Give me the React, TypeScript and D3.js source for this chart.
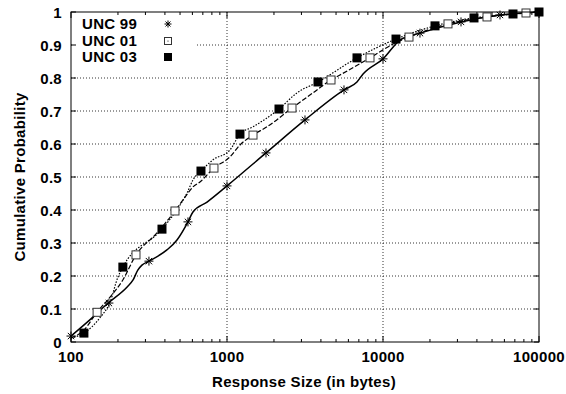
import React from "react";
import * as d3 from "d3";

const W = 566, H = 394;
const M = { left: 71, right: 539, top: 12, bottom: 342 };

const xTickValues = [100, 1000, 10000, 100000];
const xTickLabels = ["100", "1000", "10000", "100000"];
const yTickValues = [0, 0.1, 0.2, 0.3, 0.4, 0.5, 0.6, 0.7, 0.8, 0.9, 1];
const yTickLabels = ["0", "0.1", "0.2", "0.3", "0.4", "0.5", "0.6", "0.7", "0.8", "0.9", "1"];

const seriesNames = ["UNC 99", "UNC 01", "UNC 03"];

// curve samples [bytes, probability]
const unc99Line: [number, number][] = [
  [100, 0.018], [132, 0.067], [173, 0.118], [229, 0.167], [250, 0.188], [268, 0.218],
  [285, 0.233], [316, 0.245], [412, 0.279], [478, 0.309], [562, 0.364], [605, 0.394],
  [745, 0.424], [1000, 0.473], [1778, 0.573], [3162, 0.673], [5623, 0.764], [6810, 0.788],
  [7450, 0.812], [10000, 0.858], [12850, 0.915], [17260, 0.936], [31623, 0.97],
  [56234, 0.991], [100000, 1.0],
];
const unc01Line: [number, number][] = [
  [100, 0.012], [121, 0.036], [147, 0.091], [178, 0.136], [215, 0.188], [261, 0.264],
  [345, 0.324], [464, 0.397], [538, 0.439], [605, 0.47], [671, 0.485], [825, 0.527],
  [1045, 0.561], [1211, 0.597], [1468, 0.627], [1803, 0.652], [2610, 0.709], [3556, 0.755],
  [4642, 0.794], [5297, 0.809], [8254, 0.861], [12300, 0.909], [14678, 0.924],
  [26100, 0.964], [46400, 0.985], [82500, 0.997], [100000, 1.0],
];
const unc03Line: [number, number][] = [
  [100, 0.012], [121, 0.027], [153, 0.073], [178, 0.121], [200, 0.197], [215, 0.227],
  [383, 0.342], [500, 0.415], [555, 0.452], [605, 0.491], [681, 0.518], [813, 0.552],
  [1045, 0.582], [1211, 0.63], [1468, 0.652], [2154, 0.706], [2810, 0.755], [3831, 0.788],
  [6812, 0.861], [12116, 0.918], [21544, 0.958], [38312, 0.982], [68129, 0.994],
  [100000, 1.0],
];

// marker positions
const unc99Points: [number, number][] = [
  [100, 0.018], [175, 0.118], [316, 0.245], [562, 0.364], [1000, 0.473], [1778, 0.573],
  [3162, 0.673], [5623, 0.764], [10000, 0.858], [17260, 0.936], [31623, 0.97], [56234, 0.991],
];
const unc01Points: [number, number][] = [
  [147, 0.09], [261, 0.264], [464, 0.397], [825, 0.527], [1468, 0.627], [2610, 0.709],
  [4642, 0.794], [8254, 0.861], [14678, 0.924], [26100, 0.964], [46416, 0.985], [82540, 0.997],
];
const unc03Points: [number, number][] = [
  [121, 0.027], [215, 0.227], [383, 0.342], [681, 0.518], [1211, 0.63], [2154, 0.706],
  [3831, 0.788], [6813, 0.861], [12115, 0.918], [21544, 0.958], [38312, 0.982],
  [68129, 0.994], [100000, 1.0],
];

const FONT = "'Liberation Sans', Arial, Helvetica, sans-serif";

const x = d3.scaleLog().domain([100, 100000]).range([M.left, M.right]);
const y = d3.scaleLinear().domain([0, 1]).range([M.bottom, M.top]);

function Star({ cx, cy, r }: { cx: number; cy: number; r: number }) {
  const d = r * 0.7071;
  return (
    <g stroke="#000" strokeWidth={1}>
      <line x1={cx - r} y1={cy} x2={cx + r} y2={cy} />
      <line x1={cx} y1={cy - r} x2={cx} y2={cy + r} />
      <line x1={cx - d} y1={cy - d} x2={cx + d} y2={cy + d} />
      <line x1={cx - d} y1={cy + d} x2={cx + d} y2={cy - d} />
    </g>
  );
}

export default function App() {
  const line = d3
    .line<[number, number]>()
    .x((d) => x(d[0]))
    .y((d) => y(d[1]))
    .curve(d3.curveMonotoneX);

  const minorTicks: number[] = [];
  for (let dec = 100; dec < 100000; dec *= 10) {
    for (let k = 2; k <= 9; k++) minorTicks.push(dec * k);
  }

  const legendY = [24, 41, 57];

  return (
    <svg
      width={W}
      height={H}
      style={{ position: "absolute", left: 0, top: 0, background: "#fff" }}
      fontFamily={FONT}
    >
      <rect x={0} y={0} width={W} height={H} fill="#fff" />
      {/* grid */}
      <g stroke="#000" strokeWidth={0.8} strokeDasharray="1,2">
        {xTickValues.slice(1, -1).map((v) => (
          <line key={"gx" + v} x1={x(v)} x2={x(v)} y1={M.top} y2={M.bottom} />
        ))}
        {yTickValues.slice(1, -1).map((v) => (
          <line key={"gy" + v} x1={M.left} x2={M.right} y1={y(v)} y2={y(v)} />
        ))}
      </g>
      {/* legend background */}
      <rect x={M.left + 1} y={M.top + 1} width={124} height={52} fill="#fff" />
      {/* ticks */}
      <g stroke="#000" strokeWidth={1}>
        {xTickValues.map((v) => (
          <g key={"xt" + v}>
            <line x1={x(v)} x2={x(v)} y1={M.bottom} y2={M.bottom - 6} />
            <line x1={x(v)} x2={x(v)} y1={M.top} y2={M.top + 6} />
          </g>
        ))}
        {minorTicks.map((v) => (
          <g key={"xm" + v}>
            <line x1={x(v)} x2={x(v)} y1={M.bottom} y2={M.bottom - 3} />
            <line x1={x(v)} x2={x(v)} y1={M.top} y2={M.top + 3} />
          </g>
        ))}
        {yTickValues.map((v) => (
          <g key={"yt" + v}>
            <line x1={M.left} x2={M.left + 5} y1={y(v)} y2={y(v)} />
            <line x1={M.right} x2={M.right - 5} y1={y(v)} y2={y(v)} />
          </g>
        ))}
      </g>
      {/* lines */}
      <path d={line(unc99Line) || ""} fill="none" stroke="#000" strokeWidth={1.5} />
      <path d={line(unc01Line) || ""} fill="none" stroke="#000" strokeWidth={1.2} strokeDasharray="5,2" />
      <path d={line(unc03Line) || ""} fill="none" stroke="#000" strokeWidth={1.2} strokeDasharray="1.5,1.5" />
      {/* markers */}
      {unc99Points.map((d, i) => (
        <Star key={"s" + i} cx={x(d[0])} cy={y(d[1])} r={4.5} />
      ))}
      {unc01Points.map((d, i) => (
        <rect key={"o" + i} x={x(d[0]) - 4} y={y(d[1]) - 4} width={8} height={8} fill="#fff" stroke="#333" strokeWidth={1} />
      ))}
      {unc03Points.map((d, i) => (
        <rect key={"f" + i} x={x(d[0]) - 4.5} y={y(d[1]) - 4.5} width={9} height={9} fill="#000" />
      ))}
      {/* frame */}
      <rect x={M.left} y={M.top} width={M.right - M.left} height={M.bottom - M.top} fill="none" stroke="#000" strokeWidth={1} />
      {/* tick labels */}
      <g fontSize={15} fontWeight="bold" fill="#000" letterSpacing={0.3}>
        {xTickValues.map((v, i) => (
          <text key={"xl" + v} x={x(v)} y={362} textAnchor="middle">
            {xTickLabels[i]}
          </text>
        ))}
        {yTickValues.map((v, i) => (
          <text key={"yl" + v} x={62} y={y(v) + 5.5} textAnchor="end">
            {yTickLabels[i]}
          </text>
        ))}
        <text x={304} y={387} textAnchor="middle">Response Size (in bytes)</text>
        <text transform="translate(25,177) rotate(-90)" textAnchor="middle">Cumulative Probability</text>
      </g>
      {/* legend */}
      <g fontSize={15} fontWeight="bold" letterSpacing={0.3}>
        {seriesNames.map((n, i) => (
          <text key={n} x={82} y={legendY[i] + 5}>
            {n}
          </text>
        ))}
        <Star cx={168} cy={legendY[0]} r={3.5} />
        <rect x={164.5} y={legendY[1] - 3.5} width={7} height={7} fill="#fff" stroke="#333" strokeWidth={1} />
        <circle cx={168} cy={legendY[1]} r={0.6} fill="#000" />
        <rect x={164} y={legendY[2] - 4} width={8} height={8} fill="#000" />
      </g>
    </svg>
  );
}
